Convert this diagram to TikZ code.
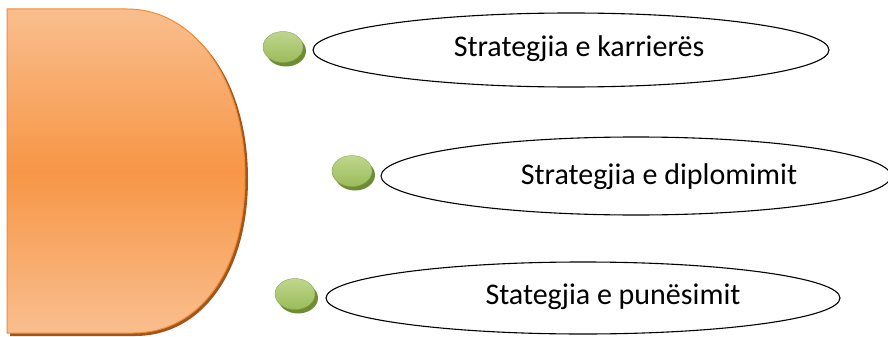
\documentclass[tikz,border=0pt]{standalone}
\usepackage{fontspec}
\setmainfont{Carlito}
\usetikzlibrary{shapes.geometric}
\definecolor{orMid}{HTML}{F79646}
\definecolor{orLight}{HTML}{F9BE8E}
\definecolor{orEdge}{HTML}{F38A34}
\definecolor{orShadow}{HTML}{A0561B}
\definecolor{grMain}{HTML}{9BBB59}
\definecolor{grLight}{HTML}{BFD68E}
\definecolor{grDark}{HTML}{6E8C35}
\tikzset{
  dot/.style={ellipse, minimum width=40pt, minimum height=31pt, inner sep=0pt,
    draw=grMain!90!black, line width=0.4pt, top color=grLight, bottom color=grMain},
  dotshadow/.style={ellipse, minimum width=40pt, minimum height=31pt, inner sep=0pt, fill=grDark},
  oval/.style={ellipse, draw=black, line width=1.1pt, inner sep=0pt},
  label/.style={font=\fontsize{30}{34}\selectfont, text=black, inner sep=0pt, anchor=center}
}
\begin{document}
\begin{tikzpicture}[x=1pt,y=-1pt]
\useasboundingbox (0,0) rectangle (888,337);
\fill[white] (0,0) rectangle (888,337);
% D shape shadow
\fill[orShadow] (10,12) -- (130,12) .. controls (198,12) and (248,82) .. (248,179)
   .. controls (248,272) and (202,336) .. (135,336) -- (10,336) -- cycle;
% D shape
\shade[top color=orLight, bottom color=orLight, middle color=orMid, draw=orEdge, line width=1pt]
  (7,9) -- (127,9) .. controls (195,9) and (245,80) .. (245,177)
   .. controls (245,270) and (200,333) .. (133,333) -- (7,333) -- cycle;
\node[name=dshape, inner sep=0pt, minimum size=0pt] at (126,171) {};
% ovals
\node[oval, minimum width=516pt, minimum height=74pt] (o1) at (571,50) {};
\node[oval, minimum width=510pt, minimum height=78pt] (o2) at (636,176) {};
\node[oval, minimum width=514pt, minimum height=72pt] (o3) at (583,298) {};
% text
\node[label] (t1) at (579,49) {Strategjia e karrierës};
\node[label] (t2) at (659,177) {Strategjia e diplomimit};
\node[label] (t3) at (613,297) {Stategjia e punësimit};
% dots
\node[dotshadow] (s1) at (286,51) {};
\node[dot] (d1) at (283,47) {};
\node[dotshadow] (s2) at (355,175) {};
\node[dot] (d2) at (352,171) {};
\node[dotshadow] (s3) at (298,298) {};
\node[dot] (d3) at (295,294) {};
\end{tikzpicture}
\end{document}
